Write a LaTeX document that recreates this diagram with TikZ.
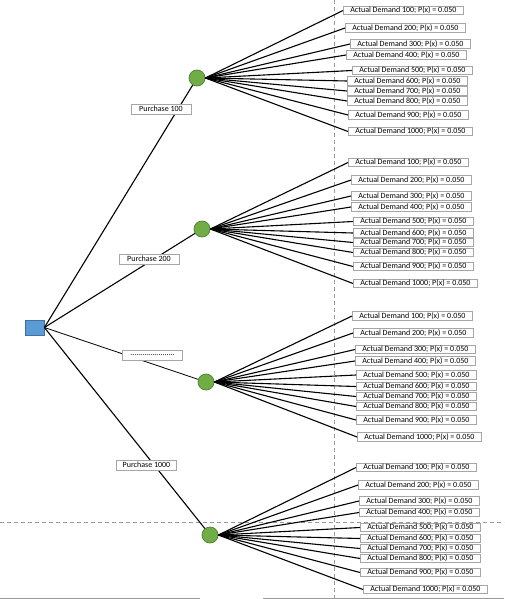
\documentclass[tikz,border=0pt]{standalone}
\usepackage{fontspec}
\setmainfont{Carlito}
\definecolor{sqfill}{HTML}{5B9BD5}
\definecolor{sqline}{HTML}{41719C}
\definecolor{cfill}{HTML}{70AD47}
\definecolor{cline}{HTML}{507E32}
\definecolor{boxline}{HTML}{A6A6A6}
\definecolor{guide}{HTML}{999999}
\begin{document}
\begin{tikzpicture}[x=1pt,y=-1pt,
  conn/.style={line width=1.1pt,black},
  dbox/.style={draw=boxline,fill=white,line width=0.7pt,font=\fontsize{8}{9}\selectfont,
    inner xsep=7pt,inner ysep=0.3pt,minimum height=8.5pt,anchor=west},
  pbox/.style={draw=boxline,fill=white,line width=0.7pt,font=\fontsize{8}{9}\selectfont,
    inner xsep=2pt,inner ysep=0.5pt,minimum width=60pt,minimum height=10pt},
  chance/.style={circle,draw=cline,fill=cfill,line width=0.7pt,minimum size=16pt,inner sep=0pt},
  decision/.style={rectangle,draw=sqline,fill=sqfill,line width=0.8pt,minimum width=19pt,minimum height=15pt,inner sep=0pt},
  guideline/.style={guide,line width=0.6pt,dash pattern=on 4pt off 3pt}]
\useasboundingbox (0,0) rectangle (504,599);
% guides
\draw[guideline] (334,0) -- (334,599);
\draw[guideline] (0,522) -- (504,522);
\draw[guide,line width=1pt] (0,598) -- (200,598);
\draw[guide,line width=1pt] (263,598) -- (504,598);
% nodes
\node[decision] (sq) at (34.5,327.5) {};
\node[chance] (c1) at (197,78) {};
\node[chance] (c2) at (202,229) {};
\node[chance] (c3) at (206,382) {};
\node[chance] (c4) at (210,535) {};
% main branches
\draw[conn] (sq.east) -- (c1);
\draw[conn] (sq.east) -- (c2);
\draw[conn,line width=0.8pt] (sq.east) -- (c3);
\draw[conn] (sq.east) -- (c4);
\node[pbox] (p1) at (161,109) {Purchase 100};
\node[pbox] (p2) at (149,259) {Purchase 200};
\node[pbox] (p3) at (152.5,355) {......................};
\node[pbox] (p4) at (146.5,465) {Purchase 1000};
% demand boxes
\foreach \x/\y [count=\i] in {343/10.5,345/28,350/44,346/55,352/70.5,347/81,347/91,347/101,348/115,348/131.5}
  {\node[dbox] (ga\i) at (\x,\y) {Actual Demand \i00; P(x) = 0.050};
   \draw[conn] (c1.east) -- (ga\i.west);}
\foreach \x/\y [count=\i] in {348/162.5,351/180,351/196,351/207,353/221.5,353/233,353/242.5,353/252.5,353/266.5,353/283.5}
  {\node[dbox] (gb\i) at (\x,\y) {Actual Demand \i00; P(x) = 0.050};
   \draw[conn] (c2.east) -- (gb\i.west);}
\foreach \x/\y [count=\i] in {352/316,353/333,355/349.5,355/361,356/375,356/386.5,356/396.5,356/406.5,356/420,357/437}
  {\node[dbox] (gc\i) at (\x,\y) {Actual Demand \i00; P(x) = 0.050};
   \draw[conn] (c3.east) -- (gc\i.west);}
\foreach \x/\y [count=\i] in {356/467.5,358/485,359/501,359/512.5,360/527.5,360/538.5,360/548.5,360/558.5,360/572.5,363/589.5}
  {\node[dbox] (gd\i) at (\x,\y) {Actual Demand \i00; P(x) = 0.050};
   \draw[conn] (c4.east) -- (gd\i.west);}
\end{tikzpicture}
\end{document}
